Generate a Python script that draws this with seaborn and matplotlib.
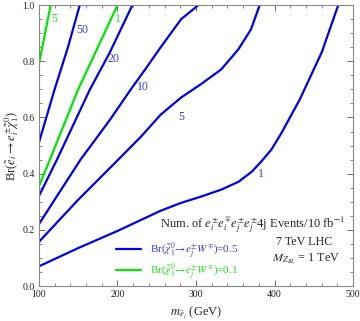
import matplotlib
matplotlib.use("Agg")
import matplotlib.pyplot as plt
from matplotlib.lines import Line2D
from matplotlib.ticker import MultipleLocator, FormatStrFormatter
import seaborn as sns
import pandas as pd

# ---- data ----
m_g5 = [100, 115]
br_g5 = [0.79, 1.0]

m_b50 = [100, 120, 137, 152]
br_b50 = [0.51, 0.70, 0.85, 1.0]

m_g1 = [100, 114, 150, 200]
br_g1 = [0.355, 0.45, 0.70, 1.0]

m_b20 = [100, 123, 165, 190, 219]
br_b20 = [0.32, 0.45, 0.70, 0.83, 1.0]

m_b10 = [100, 120, 153, 190, 217, 235, 255, 281, 303]
br_b10 = [0.22, 0.307, 0.45, 0.59, 0.70, 0.77, 0.85, 0.95, 1.0]

m_b5 = [100, 150, 201, 230, 255, 281, 306, 332, 354, 370, 381]
br_b5 = [0.157, 0.307, 0.45, 0.532, 0.61, 0.671, 0.718, 0.771, 0.843, 0.914, 1.0]

m_b1 = [100, 150, 200, 255, 281, 306, 332, 354, 371, 383, 396, 409, 432, 460, 481]
br_b1 = [0.07, 0.135, 0.196, 0.268, 0.296, 0.318, 0.343, 0.371, 0.407, 0.443,
         0.486, 0.546, 0.664, 0.832, 1.0]

contour_labels = ["5", "50", "1", "20", "10", "5", "1"]
label_m = [119, 155, 200, 195, 232, 281, 382]
label_br = [0.95, 0.91, 0.95, 0.81, 0.71, 0.60, 0.40]
label_set = ["g", "b", "g", "b", "b", "b", "b"]

legend_labels = [r"Br($\tilde{\chi}_1^0\!\rightarrow\! e_j^{\pm}W^{\mp}$)=0.5",
                 r"Br($\tilde{\chi}_1^0\!\rightarrow\! e_j^{\pm}W^{\mp}$)=0.1"]

BLUE = "#0000e6"
GREEN = "#00e600"
BLUE_T = "#3a3ad8"
GREEN_T = "#22dd22"

sns.set_style("ticks")
plt.rcParams["font.family"] = ["Liberation Serif", "DejaVu Serif"]
plt.rcParams["mathtext.fontset"] = "stix"

fig = plt.figure(figsize=(3.6, 3.21), dpi=100)
ax = fig.add_axes([0.108, 0.109, 0.873, 0.875])

curves = [(m_g5, br_g5, GREEN), (m_b50, br_b50, BLUE), (m_g1, br_g1, GREEN),
          (m_b20, br_b20, BLUE), (m_b10, br_b10, BLUE), (m_b5, br_b5, BLUE),
          (m_b1, br_b1, BLUE)]
for mx, by, c in curves:
    df = pd.DataFrame({"m": mx, "br": by})
    sns.lineplot(data=df, x="m", y="br", ax=ax, color=c, lw=1.6,
                 sort=False, estimator=None)
for ln in ax.get_lines():
    ln.set_solid_joinstyle("round")
    ln.set_solid_capstyle("butt")

for t, xm, yb, s in zip(contour_labels, label_m, label_br, label_set):
    ax.text(xm, yb, t, color=GREEN_T if s == "g" else BLUE_T, fontsize=8.5,
            ha="center", va="center")

ax.set_xlim(100, 500)
ax.set_ylim(0, 1.0)
ax.xaxis.set_major_locator(MultipleLocator(100))
ax.xaxis.set_minor_locator(MultipleLocator(20))
ax.yaxis.set_major_locator(MultipleLocator(0.2))
ax.yaxis.set_minor_locator(MultipleLocator(0.05))
ax.yaxis.set_major_formatter(FormatStrFormatter("%.1f"))
ax.tick_params(which="both", direction="in", top=True, right=True,
               labelsize=7, colors="#555555", labelcolor="#222222", pad=3)
ax.tick_params(which="major", length=4, width=0.6)
ax.tick_params(which="minor", length=2, width=0.5)
for sp in ax.spines.values():
    sp.set_color("#888888")
    sp.set_linewidth(0.8)

ax.set_xlabel(r"$m_{\tilde{e}_i}$ (GeV)", fontsize=9, labelpad=4)
ax.set_ylabel(r"Br($\tilde{e}_i\rightarrow e_i^{\pm}\tilde{\chi}_1^0$)", fontsize=9, labelpad=1)

ax.text(0.975, 0.218,
        r"Num. of $e_i^{\pm}e_i^{\mp}e_j^{\pm}e_j^{\pm}$4j Events/10 fb$^{-1}$",
        transform=ax.transAxes, ha="right", va="center", fontsize=9)
ax.text(0.935, 0.157, "7 TeV LHC", transform=ax.transAxes, ha="right",
        va="center", fontsize=8.7)
ax.text(0.958, 0.097, r"$M_{Z_{BL}}$ = 1 TeV", transform=ax.transAxes,
        ha="right", va="center", fontsize=8.7)

handles = [Line2D([], [], color=BLUE, lw=1.6), Line2D([], [], color=GREEN, lw=1.6)]
leg = ax.legend(handles, legend_labels, loc="center left",
                bbox_to_anchor=(0.225, 0.088), frameon=False, fontsize=8,
                handlelength=2.2, handletextpad=0.85, labelspacing=0.0,
                borderpad=0.1)
for txt, c in zip(leg.get_texts(), [BLUE_T, GREEN_T]):
    txt.set_color(c)

fig.savefig("out.png", dpi=100)
